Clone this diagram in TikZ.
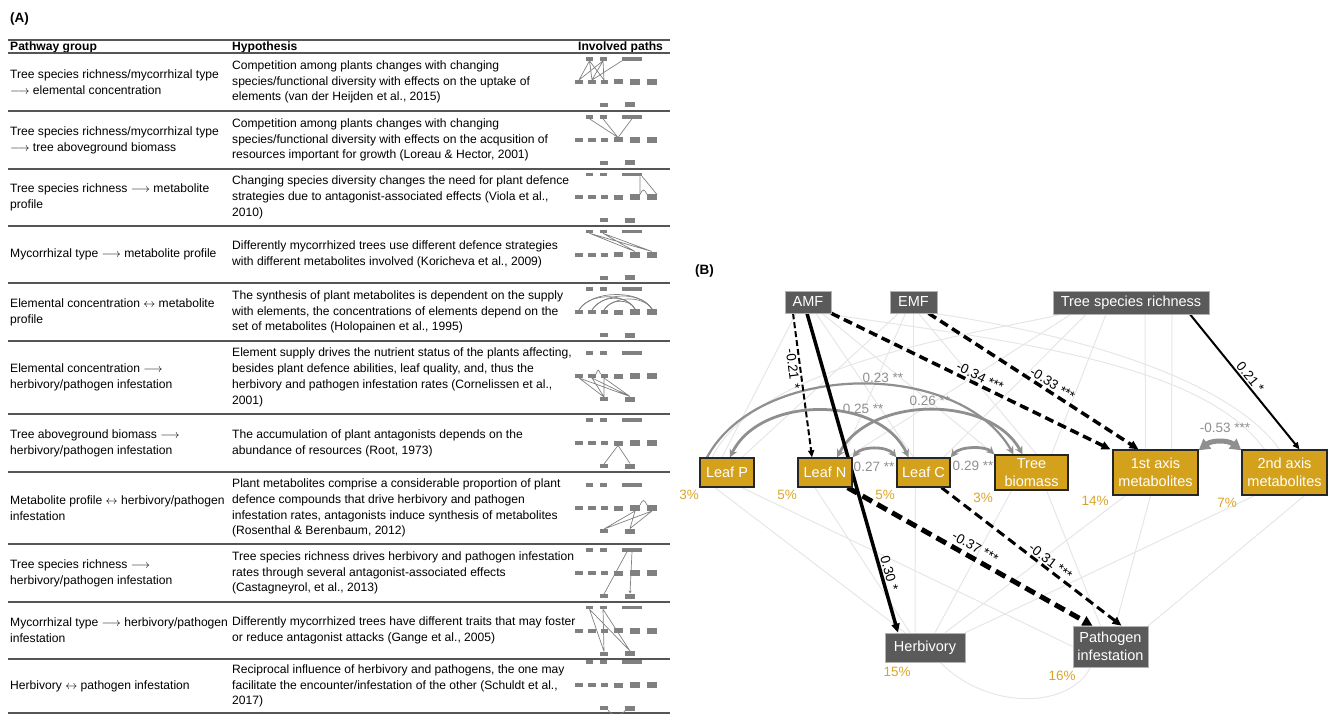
\documentclass[tikz,border=0pt]{standalone}
\usepackage{fontspec}
\setmainfont{Liberation Sans}
\usetikzlibrary{arrows.meta}
\definecolor{gold}{HTML}{D4A11C}
\definecolor{goldtxt}{HTML}{D9A52C}
\definecolor{dgray}{HTML}{5A5A5A}
\definecolor{cgray}{HTML}{8F8F8F}
\definecolor{lgray}{HTML}{E6E6E6}
\definecolor{igray}{HTML}{808080}
\definecolor{rulec}{HTML}{555555}
\pgfdeclarelayer{bg}
\pgfdeclarelayer{mid}
\pgfsetlayers{bg,mid,main}
\newcommand\LA{$\longrightarrow$}
\newcommand\LR{$\leftrightarrow$}
\newcommand\pathicon[2]{%
  \node[blk,minimum width=7pt,minimum height=3.6pt] (#1a) at (589.5,{#2-23}) {};
  \node[blk,minimum width=7pt,minimum height=3.6pt] (#1e) at (603,{#2-23}) {};
  \node[blk,minimum width=20pt,minimum height=3.6pt] (#1t) at (632,{#2-23}) {};
  \node[blk,minimum width=8pt,minimum height=4pt] (#1p) at (579,#2) {};
  \node[blk,minimum width=8pt,minimum height=4pt] (#1n) at (592,#2) {};
  \node[blk,minimum width=7pt,minimum height=4pt] (#1c) at (604,#2) {};
  \node[blk,minimum width=9pt,minimum height=5pt] (#1b) at (618,#2) {};
  \node[blk,minimum width=10pt,minimum height=6pt] (#1m) at (635,#2) {};
  \node[blk,minimum width=10pt,minimum height=6pt] (#1w) at (652,#2) {};
  \node[blk,minimum width=8pt,minimum height=4pt] (#1h) at (604,{#2+23}) {};
  \node[blk,minimum width=10pt,minimum height=5pt] (#1g) at (630,{#2+23}) {};
}
\begin{document}
\begin{tikzpicture}[x=1pt,y=-1pt,
  tabtxt/.style={anchor=west, align=left, inner sep=0pt, font=\fontsize{12.1}{15.8}\selectfont},
  tabhead/.style={anchor=west, inner sep=0pt, font=\fontsize{12.1}{14}\selectfont\bfseries},
  tabrule/.style={draw=rulec, line width=1.6pt},
  blk/.style={fill=igray, draw=none, inner sep=0pt, outer sep=0pt},
  iln/.style={draw=igray, line width=0.7pt},
  bdark/.style={fill=dgray, draw=gray!60, line width=0.6pt, text=white, inner sep=0pt, align=center, font=\fontsize{14.5}{17.5}\selectfont},
  bgold/.style={fill=gold, draw=black!85, line width=1.3pt, text=white, inner sep=0pt, align=center, font=\fontsize{14.5}{17.5}\selectfont},
  pct/.style={text=goldtxt, inner sep=0pt, font=\fontsize{13.5}{15}\selectfont},
  lbl/.style={inner sep=1.5pt, font=\fontsize{13.5}{15}\selectfont},
  clbl/.style={inner sep=1.5pt, text=cgray, font=\fontsize{13.5}{15}\selectfont},
  lt/.style={draw=lgray, line width=1pt},
  sig/.style={draw=black, -{Triangle[length=9pt,width=8pt]}},
  sigdash/.style={sig, dash pattern=on 9pt off 5pt},
  cov/.style={draw=cgray, {Stealth[length=8pt,width=8pt]}-{Stealth[length=8pt,width=8pt]}},
  cov1/.style={draw=cgray, -{Stealth[length=8pt,width=8pt]}}
]
\useasboundingbox (0,0) rectangle (1333,714);

% ---------------- (A) table ----------------
\node[anchor=west, inner sep=0pt, font=\fontsize{13.5}{15}\selectfont\bfseries] (labA) at (10,19) {(A)};
\draw[tabrule, line width=2pt] (8,40) -- (670,40);
\node[tabhead] (hd1) at (10,47) {Pathway group};
\node[tabhead] (hd2) at (232,47) {Hypothesis};
\node[tabhead] (hd3) at (578,47) {Involved paths};
\foreach \yy in {53,111,169,226,283,341,414,472,544,602,659,713}
  \draw[tabrule] (8,\yy) -- (670,\yy);

\node[tabtxt] (g1) at (10,82) {Tree species richness/mycorrhizal type\\\LA{} elemental concentration};
\node[tabtxt] (y1) at (232,82) {Competition among plants changes with changing\\species/functional diversity with effects on the uptake of\\elements (van der Heijden et al., 2015)};
\node[tabtxt] (g2) at (10,140) {Tree species richness/mycorrhizal type\\\LA{} tree aboveground biomass};
\node[tabtxt] (y2) at (232,140) {Competition among plants changes with changing\\species/functional diversity with effects on the acqusition of\\resources important for growth (Loreau \& Hector, 2001)};
\node[tabtxt] (g3) at (10,197.5) {Tree species richness \LA{} metabolite\\profile};
\node[tabtxt] (y3) at (232,197.5) {Changing species diversity changes the need for plant defence\\strategies due to antagonist-associated effects (Viola et al.,\\2010)};
\node[tabtxt] (g4) at (10,254.5) {Mycorrhizal type \LA{} metabolite profile};
\node[tabtxt] (y4) at (232,254.5) {Differently mycorrhized trees use different defence strategies\\with different metabolites involved (Koricheva et al., 2009)};
\node[tabtxt] (g5) at (10,312) {Elemental concentration \LR{} metabolite\\profile};
\node[tabtxt] (y5) at (232,312) {The synthesis of plant metabolites is dependent on the supply\\with elements, the concentrations of elements depend on the\\set of metabolites (Holopainen et al., 1995)};
\node[tabtxt] (g6) at (10,377.5) {Elemental concentration \LA\\herbivory/pathogen infestation};
\node[tabtxt] (y6) at (232,377.5) {Element supply drives the nutrient status of the plants affecting,\\besides plant defence abilities, leaf quality, and, thus the\\herbivory and pathogen infestation rates (Cornelissen et al.,\\2001)};
\node[tabtxt] (g7) at (10,443) {Tree aboveground biomass \LA\\herbivory/pathogen infestation};
\node[tabtxt] (y7) at (232,443) {The accumulation of plant antagonists depends on the\\abundance of resources (Root, 1973)};
\node[tabtxt] (g8) at (10,508) {Metabolite profile \LR{} herbivory/pathogen\\infestation};
\node[tabtxt] (y8) at (232,508) {Plant metabolites comprise a considerable proportion of plant\\defence compounds that drive herbivory and pathogen\\infestation rates, antagonists induce synthesis of metabolites\\(Rosenthal \& Berenbaum, 2012)};
\node[tabtxt] (g9) at (10,573) {Tree species richness \LA\\herbivory/pathogen infestation};
\node[tabtxt] (y9) at (232,573) {Tree species richness drives herbivory and pathogen infestation\\rates through several antagonist-associated effects\\(Castagneyrol, et al., 2013)};
\node[tabtxt] (g10) at (10,630.5) {Mycorrhizal type \LA{} herbivory/pathogen\\infestation};
\node[tabtxt] (y10) at (232,630.5) {Differently mycorrhized trees have different traits that may foster\\or reduce antagonist attacks (Gange et al., 2005)};
\node[tabtxt] (g11) at (10,686) {Herbivory \LR{} pathogen infestation};
\node[tabtxt] (y11) at (232,686) {Reciprocal influence of herbivory and pathogens, the one may\\facilitate the encounter/infestation of the other (Schuldt et al.,\\2017)};

% icons
\pathicon{r1}{82}
\pathicon{r2}{140}
\pathicon{r3}{197.5}
\pathicon{r4}{254.5}
\pathicon{r5}{312}
\pathicon{r6}{376}
\pathicon{r7}{443}
\pathicon{r8}{508}
\pathicon{r9}{573}
\pathicon{r10}{630.5}
\pathicon{r11}{685}

\draw[iln] (r1a.south) -- (r1p.north) (r1a.south) -- (r1n.north) (r1a.south) -- (r1c.north)
  (r1e.south) -- (r1p.north) (r1e.south) -- (r1n.north) (r1e.south) -- (r1c.north)
  (r1t.south west) -- (r1n.north);
\draw[iln] (r2a.south) -- (r2b.north) (r2e.south) -- (r2b.north) (r2t.south) -- (r2b.north);
\draw[iln] ([xshift=-2pt]r3t.south east) -- (r3m.north east) (r3t.south east) -- (r3w.north east);
\draw[iln] (r3m.north east) .. controls +(3,-6) and +(-3,-6) .. (r3w.north west);
\draw[iln] (r4a.south) -- (r4m.north) (r4a.south) -- (r4w.north) (r4e.south) -- (r4m.north) (r4e.south) -- (r4w.north);
\draw[iln] (r5p.north) .. controls +(10,-17) and +(-10,-17) .. (r5m.north);
\draw[iln] (r5p.north) .. controls +(12,-20) and +(-12,-20) .. (r5w.north);
\draw[iln] (r5n.north) .. controls +(9,-15) and +(-9,-15) .. (r5m.north);
\draw[iln] (r5n.north) .. controls +(12,-18) and +(-12,-18) .. (r5w.north);
\draw[iln] (r5c.north) .. controls +(6,-11) and +(-6,-11) .. (r5m.north);
\draw[iln] (r5c.north) .. controls +(9,-14) and +(-9,-14) .. (r5w.north);
\draw[iln] (r6p.south) -- (r6h.north) (r6p.south) -- (r6g.north) (r6n.south) -- (r6h.north)
  (r6n.south) -- (r6g.north) (r6c.south) -- (r6h.north) (r6c.south) -- (r6g.north);
\draw[iln] (r6n.north east) .. controls +(2,-5) and +(-2,-5) .. (r6c.north west);
\draw[iln] (r7b.south) -- (r7h.north) (r7b.south) -- (r7g.north);
\draw[iln] (r8m.south) -- (r8h.north) (r8m.south) -- (r8g.north) (r8w.south) -- (r8h.north) (r8w.south) -- (r8g.north);
\draw[iln] (r8m.north east) .. controls +(3,-6) and +(-3,-6) .. (r8w.north west);
\draw[iln] ([xshift=-5pt]r9t.south) -- (r9h.north);
\draw[iln, -{Stealth[length=3pt,width=3pt]}] (r9t.south) -- (r9g.north);
\draw[iln] (r10a.south) -- (r10h.north) (r10a.south) -- (r10g.north) (r10e.south) -- (r10h.north) (r10e.south) -- (r10g.north);
\draw[iln] (r11h.south east) .. controls +(3,6) and +(-3,6) .. (r11g.south west);

% ---------------- (B) path diagram ----------------
\node[anchor=west, inner sep=0pt, font=\fontsize{13.5}{15}\selectfont\bfseries] (labB) at (695,271) {(B)};

\node[bdark, minimum width=46pt, minimum height=22pt] (amf) at (808,302) {AMF};
\node[bdark, minimum width=47pt, minimum height=22pt] (emf) at (913.5,302) {EMF};
\node[bdark, minimum width=156pt, minimum height=23pt] (tsr) at (1131,302.5) {Tree species richness};
\node[bgold, minimum width=54pt, minimum height=29pt] (leafP) at (727,472.5) {Leaf P};
\node[bgold, minimum width=54pt, minimum height=29pt] (leafN) at (825,472.5) {Leaf N};
\node[bgold, minimum width=53pt, minimum height=29pt] (leafC) at (923.5,472.5) {Leaf C};
\node[bgold, minimum width=73pt, minimum height=35pt] (tb) at (1031.5,472.5) {Tree\\biomass};
\node[bgold, minimum width=85pt, minimum height=45pt] (m1) at (1155.5,472.5) {1st axis\\metabolites};
\node[bgold, minimum width=85pt, minimum height=45pt] (m2) at (1284.5,472.5) {2nd axis\\metabolites};
\node[bdark, minimum width=80pt, minimum height=29pt] (herb) at (925,647.5) {Herbivory};
\node[bdark, minimum width=75pt, minimum height=41pt] (path) at (1110.5,646.5) {Pathogen\\infestation};

\node[pct] (pP) at (689,495) {3\%};
\node[pct] (pN) at (787,495) {5\%};
\node[pct] (pC) at (885,495) {5\%};
\node[pct] (pB) at (983,498) {3\%};
\node[pct] (p1) at (1095,501) {14\%};
\node[pct] (p2) at (1227,503) {7\%};
\node[pct] (pH) at (897,672) {15\%};
\node[pct] (pG) at (1062,676) {16\%};

\begin{pgfonlayer}{bg}
\draw[lt] ([xshift=-12pt]amf.south) -- ([xshift=-5pt]leafP.north);
\draw[lt] ([xshift=8pt]amf.south) -- ([xshift=-10pt]leafC.north);
\draw[lt] ([xshift=14pt]amf.south) -- (tb.north west);
\draw[lt] ([xshift=-15pt]emf.south) -- ([xshift=15pt]leafP.north);
\draw[lt] ([xshift=-8pt]emf.south) -- ([xshift=18pt]leafN.north);
\draw[lt] (emf.south) -- ([xshift=-10pt]leafC.north);
\draw[lt] ([xshift=5pt]emf.south) -- ([xshift=5pt]tb.north);
\draw[lt] ([xshift=-60pt]tsr.south) -- ([xshift=22pt]leafN.north);
\draw[lt] ([xshift=-45pt]tsr.south) -- ([xshift=20pt]leafC.north);
\draw[lt] ([xshift=-25pt]tsr.south) -- ([xshift=20pt]tb.north);
\draw[lt] ([xshift=14pt]tsr.south) -- ([xshift=-10pt]m1.north);
\draw[lt] ([xshift=41pt]tsr.south) -- ([xshift=16pt]m1.north);
\draw[lt] ([xshift=15pt]amf.south) .. controls (1000,340) and (1200,360) .. ([xshift=-20pt]m2.north);
\draw[lt] ([xshift=20pt]emf.south) .. controls (1080,335) and (1230,380) .. ([xshift=-5pt]m2.north);
\draw[lt] ([xshift=-70pt]tsr.south) .. controls (1000,330) and (760,360) .. ([xshift=-15pt]leafP.north);
\draw[lt] ([xshift=-12pt]leafP.south) -- ([xshift=-20pt]herb.north);
\draw[lt] ([xshift=15pt]leafP.south) -- (path.west);
\draw[lt] ([xshift=-10pt]leafN.south) -- ([xshift=-15pt]herb.north);
\draw[lt] ([xshift=-8pt]leafC.south) -- ([xshift=-10pt]herb.north);
\draw[lt] ([xshift=-20pt]tb.south) -- ([xshift=10pt]herb.north);
\draw[lt] ([xshift=15pt]tb.south) -- ([xshift=-10pt]path.north);
\draw[lt] ([xshift=-30pt]m1.south) -- ([xshift=20pt]herb.north);
\draw[lt] ([xshift=-5pt]m1.south) -- ([xshift=5pt]path.north);
\draw[lt] ([xshift=-30pt]m2.south) -- (herb.north east);
\draw[lt] ([xshift=20pt]m2.south) -- (path.north east);
\draw[lt] ([xshift=15pt]herb.south) .. controls (990,712) and (1070,708) .. ([xshift=-20pt]path.south);
\end{pgfonlayer}

\begin{pgfonlayer}{mid}
% covariances
\draw[cov1, line width=2.2pt] ([xshift=-20pt]leafP.north) .. controls (760,360) and (960,360) .. ([xshift=-18pt]tb.north)
  node[clbl, pos=0.56, above] {0.23 **};
\draw[cov, line width=2.8pt] ([xshift=3pt]leafP.north) .. controls (760,395) and (880,395) .. ([xshift=-15pt]leafC.north)
  node[clbl, pos=0.7, above=2pt] {0.25 **};
\draw[cov, line width=2.8pt] ([xshift=12pt]leafN.north) .. controls (870,395) and (990,395) .. ([xshift=-9pt]tb.north)
  node[clbl, pos=0.5, above=2pt] {0.26 **};
\draw[cov, line width=2.8pt] (leafN.north east) .. controls (862,446) and (887,446) .. (leafC.north west);
\node[clbl] (c27) at (874,467) {0.27 **};
\draw[cov, line width=2.8pt] (leafC.north east) .. controls (960,446) and (985,446) .. (tb.north west);
\node[clbl] (c29) at (973,466) {0.29 **};
\draw[cov, line width=5pt, {Triangle[length=11pt,width=12pt]}-{Triangle[length=11pt,width=12pt]}] ([yshift=-1pt]m1.north east) .. controls (1212,440) and (1228,440) .. ([yshift=-1pt]m2.north west);
\node[clbl] (c53) at (1225,428) {-0.53 ***};

% significant paths
\draw[sigdash, line width=2pt, dash pattern=on 6pt off 3pt, -{Triangle[length=7pt,width=6pt]}] ([xshift=-15pt]amf.south) -- ([xshift=-13pt]leafN.north)
  node[lbl, pos=0.38, sloped, below] {-0.21 *};
\draw[sig, line width=3.5pt] ([xshift=-1pt]amf.south) -- ([xshift=-27pt]herb.north)
  node[lbl, pos=0.82, sloped, above] {0.30 *};
\draw[sigdash, line width=3.5pt] (amf.south east) -- ([xshift=-45pt]m1.north)
  node[lbl, pos=0.52, sloped, above] {-0.34 ***};
\draw[sigdash, line width=3.5pt] ([xshift=15pt]emf.south) -- ([xshift=-17pt]m1.north)
  node[lbl, pos=0.57, sloped, above] {-0.33 ***};
\draw[sig, line width=2pt, -{Triangle[length=7pt,width=6pt]}] ([xshift=59pt]tsr.south) -- ([xshift=15pt]m2.north)
  node[lbl, pos=0.5, sloped, above] {0.21 *};
\draw[sigdash, line width=5pt, dash pattern=on 11pt off 6pt, -{Triangle[length=10pt,width=10pt]}] ([xshift=-5pt]leafN.south east) -- ([xshift=-18pt]path.north)
  node[lbl, pos=0.5, sloped, above=2pt] {-0.37 ***};
\draw[sigdash, line width=3pt] ([xshift=18pt]leafC.south) -- ([xshift=11pt]path.north)
  node[lbl, pos=0.58, sloped, above] {-0.31 ***};
\end{pgfonlayer}
\end{tikzpicture}
\end{document}
